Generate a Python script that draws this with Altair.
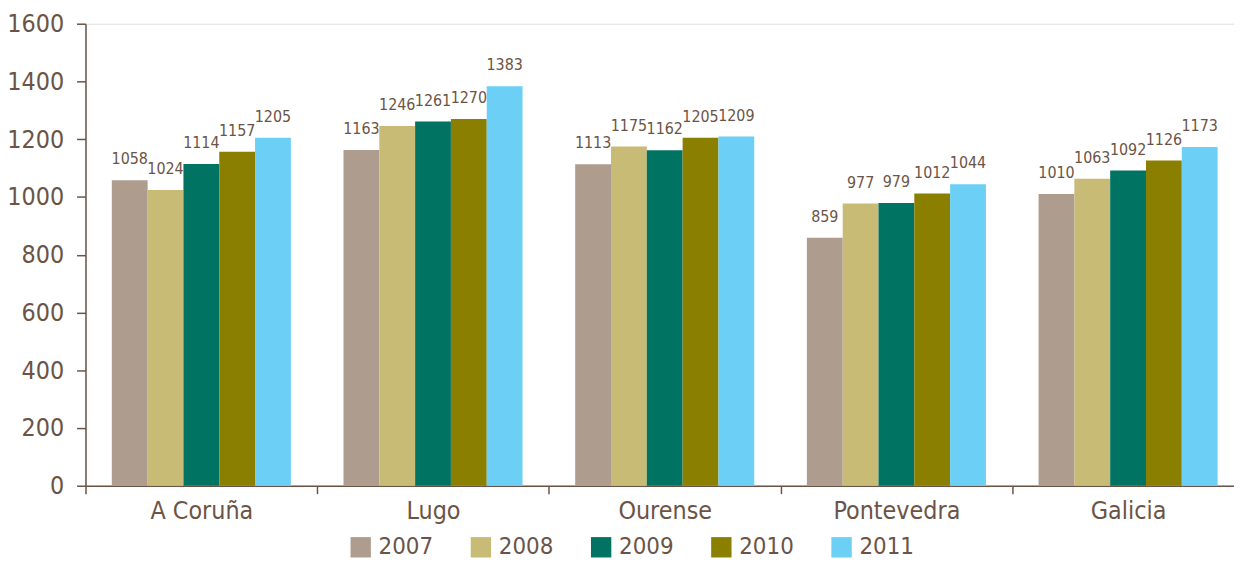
import altair as alt
import pandas as pd

regions = ["A Coruña", "Lugo", "Ourense", "Pontevedra", "Galicia"]
years = ["2007", "2008", "2009", "2010", "2011"]
v2007 = [1058, 1163, 1113, 859, 1010]
v2008 = [1024, 1246, 1175, 977, 1063]
v2009 = [1114, 1261, 1162, 979, 1092]
v2010 = [1157, 1270, 1205, 1012, 1126]
v2011 = [1205, 1383, 1209, 1044, 1173]
y_ticks = [0, 200, 400, 600, 800, 1000, 1200, 1400, 1600]
colors = ["#ae9c8f", "#c7bb76", "#007363", "#8b7f00", "#6bcff6"]

series = [v2007, v2008, v2009, v2010, v2011]
rows = []
for yr, vals in zip(years, series):
    for r, v in zip(regions, vals):
        rows.append({"region": r, "year": yr, "value": v})
df = pd.DataFrame(rows)

BROWN = "#6b5446"
FONT = "DejaVu Sans Condensed, Liberation Sans, sans-serif"

x_enc = alt.X(
    "region:N",
    sort=regions,
    scale=alt.Scale(paddingInner=0, paddingOuter=0, range=[0, 1166]),
    axis=alt.Axis(
        title=None, labelAngle=0, tickBand="extent", tickSize=8,
        labelFontSize=25, labelPadding=5, labelColor=BROWN, labelFont=FONT,
        domainColor=BROWN, tickColor=BROWN, domainWidth=1.5, tickWidth=1.5,
    ),
)
xo_enc = alt.XOffset(
    "year:N", sort=years, scale=alt.Scale(paddingOuter=0.735, paddingInner=0)
)
y_enc = alt.Y(
    "value:Q",
    scale=alt.Scale(domain=[0, 1600], nice=False),
    axis=alt.Axis(
        title=None, values=y_ticks, format="d", grid=False, tickSize=9,
        labelPadding=13, labelFontSize=25, labelColor=BROWN, labelFont=FONT,
        domainColor=BROWN, tickColor=BROWN, domainWidth=1.5, tickWidth=1.5,
    ),
)

bars = alt.Chart(df).mark_bar(opacity=1).encode(
    x=x_enc,
    xOffset=xo_enc,
    y=y_enc,
    color=alt.Color(
        "year:N",
        sort=years,
        scale=alt.Scale(domain=years, range=colors),
        legend=alt.Legend(
            title=None, orient="none", legendX=265, legendY=515,
            direction="horizontal", symbolType="square", symbolSize=420,
            symbolStrokeWidth=0, symbolOpacity=1, labelFontSize=24,
            labelColor=BROWN, labelFont=FONT, labelOffset=6,
            columnPadding=36, padding=0,
        ),
    ),
)

labels = alt.Chart(df).mark_text(
    baseline="alphabetic", dy=-16, fontSize=16, color=BROWN, font=FONT
).encode(
    x=x_enc,
    xOffset=xo_enc,
    y=y_enc,
    text=alt.Text("value:Q", format="d"),
)

chart = alt.layer(bars, labels).properties(
    width=1156,
    height=465,
    autosize=alt.AutoSizeParams(type="none"),
    padding={"left": 78, "top": 14, "right": 0, "bottom": 79},
).configure_view(stroke=None).configure(background="white")

chart.save("out.html", embed_options={"renderer": "svg", "actions": False})
